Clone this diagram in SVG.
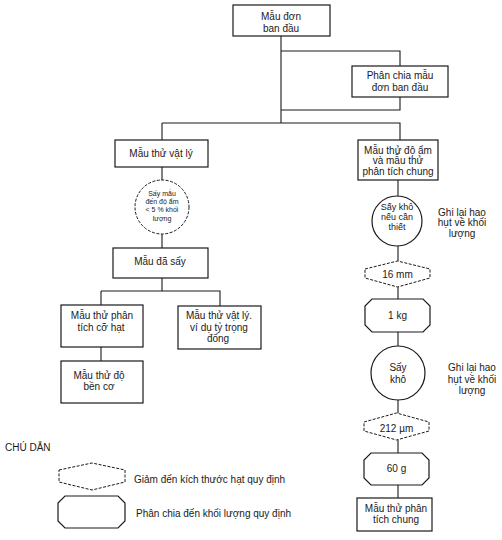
<svg xmlns="http://www.w3.org/2000/svg" width="502" height="540" viewBox="0 0 502 540">
<style>
text{font-family:"Liberation Sans",Arial,sans-serif;font-size:10px;fill:#1a1a1a;text-anchor:middle;dominant-baseline:central}
.box{fill:#fff;stroke:#1a1a1a;stroke-width:1.2}
.dash{fill:#fff;stroke:#1a1a1a;stroke-width:1;stroke-dasharray:3 1.5}
.ln{fill:none;stroke:#1a1a1a;stroke-width:1.1}
.sm{font-size:7px}
.md{font-size:9px}
.lt{text-anchor:start}
</style>
<rect width="502" height="540" fill="#fff"/>
<g id="connectors">
<path class="ln" d="M281 36V123M281 51H400V66M400 97V110H281M162 123H400V140"/>
<path class="ln" d="M162 123V140M162 167V180M162 234V248M162 278V291M101 291H220V306M101 291V305M101 347V361"/>
<path class="ln" d="M398 180V196M398 246V261M398 287V299M398 332V346M398 400V413M398 440V453M398 485V498"/>
</g>
<g id="n_mau_don"><rect class="box" x="233" y="5" width="97" height="31"/><text x="281" y="16">Mẫu đơn</text><text x="281" y="28">ban đầu</text></g>
<g id="n_phan_chia"><rect class="box" x="352" y="66" width="96" height="31"/><text x="400" y="75">Phân chia mẫu</text><text x="400" y="87">đơn ban đầu</text></g>
<g id="n_vat_ly"><rect class="box" x="115" y="140" width="93" height="27"/><text x="161" y="153">Mẫu thử vật lý</text></g>
<g id="n_say_mau"><circle class="dash" cx="162" cy="207" r="27"/><text class="sm" x="162" y="193">Sấy mẫu</text><text class="sm" x="162" y="201">đến độ ẩm</text><text class="sm" x="162" y="209.5">&lt; 5 % khối</text><text class="sm" x="162" y="218">lượng</text></g>
<g id="n_da_say"><rect class="box" x="113" y="248" width="95" height="30"/><text x="160" y="261">Mẫu đã sấy</text></g>
<g id="n_co_hat"><rect class="box" x="61" y="305" width="82" height="42"/><text x="102" y="315">Mẫu thử phân</text><text x="101" y="327">tích cỡ hạt</text></g>
<g id="n_ty_trong"><rect class="box" x="178" y="306" width="83" height="43"/><text x="219" y="315">Mẫu thử vật lý.</text><text x="219" y="327">ví dụ tỷ trọng</text><text x="218" y="338">đống</text></g>
<g id="n_ben_co"><rect class="box" x="61" y="361" width="82" height="42"/><text x="99" y="375">Mẫu thử độ</text><text x="99" y="386">bền cơ</text></g>
<g id="n_do_am"><rect class="box" x="358" y="140" width="80" height="40"/><text x="398" y="150">Mẫu thử độ ẩm</text><text x="398" y="160.5">và mẫu thử</text><text x="398" y="171">phân tích chung</text></g>
<g id="n_say_kho1"><circle class="box" cx="397" cy="221" r="25"/><text class="md" x="397" y="207">Sấy khô</text><text class="md" x="397" y="217">nếu cần</text><text class="md" x="397" y="227">thiết</text></g>
<g id="t_ghi1"><text x="462" y="212">Ghi lại hao</text><text x="462" y="222.5">hụt về khối</text><text x="462" y="233">lượng</text></g>
<g id="n_16mm"><polygon class="dash" points="365,269 397.5,261 430,269 430,278 397.5,287 365,278"/><text x="397.5" y="274">16 mm</text></g>
<g id="n_1kg"><polygon class="box" points="372,299 423,299 430,306 430,325 423,332 372,332 365,325 365,306"/><text x="397.5" y="315.5">1 kg</text></g>
<g id="n_say_kho2"><circle class="box" cx="398" cy="373" r="27"/><text x="398" y="367">Sấy</text><text x="398" y="379">khô</text></g>
<g id="t_ghi2"><text x="472" y="367">Ghi lại hao</text><text x="472" y="379">hụt về khối</text><text x="472" y="390">lượng</text></g>
<g id="n_212"><polygon class="dash" points="364,422 396.5,413 429,422 429,431 396.5,440 364,431"/><text x="396.5" y="428">212 µm</text></g>
<g id="n_60g"><polygon class="box" points="371,453 422,453 429,460 429,478 422,485 371,485 364,478 364,460"/><text x="396.5" y="468.5">60 g</text></g>
<g id="n_chung"><rect class="box" x="357" y="498" width="75" height="33" stroke-width="1"/><text x="396" y="508">Mẫu thử phân</text><text x="396" y="519.5">tích chung</text></g>
<g id="legend">
<text class="lt" x="5" y="447">CHÚ DẪN</text>
<polygon class="dash" points="59,470 92,463 125,470 125,482 92,490 59,482"/>
<text class="lt" x="134" y="479">Giảm đến kích thước hạt quy định</text>
<polygon class="box" points="65,496 118,496 125,503 125,521 118,528 65,528 58,521 58,503" stroke-width="1"/>
<text class="lt" x="136" y="513">Phân chia đến khối lượng quy định</text>
</g>
</svg>
